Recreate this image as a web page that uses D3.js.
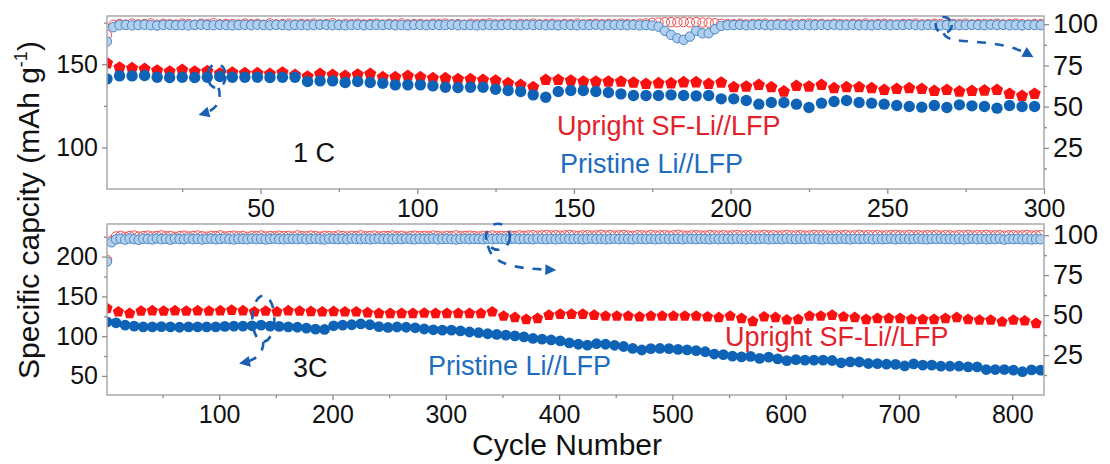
<!DOCTYPE html>
<html><head><meta charset="utf-8">
<script src="https://cdn.jsdelivr.net/npm/d3@7"></script>
<style>
body{margin:0;background:#fff}
text{font-family:"Liberation Sans",Arial,Helvetica,sans-serif}
</style>
</head><body>
<svg id="chart" width="1110" height="464"></svg>
<script>
// ---------- 1 C panel: cycles 1-300 ----------
const cyc1C = d3.range(1, 300, 4);          // discharge capacity shown every 4th cycle
const upright1C = [
  150.6,148.0,147.6,147.2,146.2,145.6,146.6,145.6,145.8,144.4,
  145.0,144.6,144.6,144.2,145.0,143.6,142.6,144.2,143.6,143.0,
  143.8,144.2,142.2,142.2,143.0,142.2,141.6,141.6,141.0,141.0,
  140.6,140.2,138.6,137.6,136.2,140.6,140.6,140.2,139.6,139.6,
  139.6,139.6,139.0,138.2,138.6,138.6,139.2,139.2,138.2,139.0,
  136.2,136.6,137.6,136.2,133.6,137.0,136.6,137.6,135.6,136.2,
  136.2,135.6,134.6,135.2,135.6,135.2,134.0,134.6,133.6,134.0,
  134.2,134.6,132.2,131.0,132.2];
const pristine1C = [
  141.2,143.0,143.0,143.2,142.2,142.0,142.2,142.0,142.2,142.6,
  142.2,142.2,142.2,142.0,142.2,142.2,139.6,140.0,140.0,139.0,
  139.6,139.0,138.6,137.6,137.6,137.6,137.0,136.2,136.0,136.2,
  136.2,135.0,134.2,133.6,131.6,130.2,133.6,134.2,134.2,133.6,
  133.0,132.2,131.2,131.2,131.2,131.6,131.2,131.0,131.2,129.2,
  129.2,128.2,126.0,127.0,127.0,126.0,124.0,126.6,127.6,128.2,
  127.0,126.6,126.0,125.2,124.6,124.2,125.2,124.0,125.6,125.0,
  124.6,123.6,125.2,124.6,124.6];
const ceCyc1C = d3.range(1, 300, 2);         // coulombic efficiency every 2nd cycle
const ceUpright1C = [
  93.5,99.6,100.2,99.8,100.4,99.9,100.1,100.5,99.7,100.3,
  100.0,99.8,100.4,100.1,99.7,100.3,100.0,100.6,99.9,100.2,
  100.1,99.8,100.4,100.0,100.2,99.7,100.5,99.9,100.1,100.3,
  99.8,100.2,100.0,100.4,99.9,100.1,100.6,99.8,100.2,100.0,
  100.3,99.9,100.1,100.4,99.8,100.2,100.0,100.5,99.9,100.1,
  100.2,99.8,100.3,100.0,100.4,99.9,100.1,99.7,100.3,100.0,
  100.2,100.5,99.9,100.1,100.3,99.8,100.2,100.0,100.4,99.9,
  100.1,100.3,99.8,100.2,100.0,100.4,99.9,100.1,100.3,100.0,
  100.2,99.9,100.4,100.1,100.0,100.3,100.5,100.8,101.0,101.2,
  101.3,101.2,101.4,101.1,101.3,101.0,100.9,100.6,100.3,100.1,
  100.0,100.3,99.9,100.2,100.1,100.4,99.8,100.2,100.0,100.3,
  99.9,100.1,100.4,100.0,100.2,99.8,100.3,100.1,99.9,100.2,
  100.0,100.4,99.9,100.1,100.3,100.0,99.8,100.2,100.1,100.4,
  99.9,100.0,100.3,100.1,99.8,100.2,100.0,100.4,99.9,100.1,
  100.2,100.0,100.3,99.9,100.1,100.4,100.0,99.8,100.2,100.1];
const cePristine1C = [
  89.5,98.2,99.4,99.6,99.3,99.5,99.7,99.4,99.2,99.5,
  99.6,99.4,99.5,99.3,99.6,99.7,99.5,99.4,99.6,99.5,
  99.3,99.5,99.6,99.4,99.7,99.5,99.4,99.6,99.5,99.3,
  99.6,99.5,99.4,99.5,99.7,99.6,99.4,99.5,99.3,99.5,
  99.6,99.4,99.5,99.6,99.5,99.7,99.4,99.5,99.3,99.6,
  99.5,99.4,99.6,99.5,99.5,99.7,99.4,99.6,99.5,99.3,
  99.5,99.6,99.4,99.5,99.6,99.5,99.4,99.7,99.5,99.6,
  99.4,99.5,99.3,99.6,99.5,99.4,99.6,99.5,99.7,99.4,
  99.5,99.6,99.5,99.4,99.6,99.3,99.5,99.2,98.5,96.0,
  93.5,91.5,90.5,92.5,96.0,94.5,94.5,97.0,99.0,99.4,
  99.5,99.6,99.4,99.5,99.7,99.5,99.4,99.6,99.5,99.3,
  99.5,99.6,99.4,99.5,99.6,99.5,99.7,99.4,99.5,99.6,
  99.4,99.5,99.3,99.6,99.5,99.4,99.6,99.5,99.7,99.5,
  99.4,99.6,99.5,99.3,99.5,99.6,99.4,99.5,99.6,99.5,
  99.4,99.7,99.5,99.6,99.4,99.5,99.3,99.6,99.5,99.4];

// ---------- 3C panel: cycles 1-828 ----------
const cycUpright3C = d3.range(1, 828, 10);
const upright3C = [
  134.9,130.6,128.6,131.5,131.9,131.5,131.9,131.5,131.9,131.5,
  131.9,132.7,131.9,130.6,131.5,130.6,131.9,131.5,131.0,130.6,
  131.0,130.6,130.6,129.5,128.6,128.6,128.6,128.6,129.0,128.6,
  128.6,128.6,128.6,128.6,130.6,125.2,123.5,121.0,122.3,126.4,
  127.7,127.7,127.7,126.4,125.2,125.2,125.2,124.3,125.2,125.2,
  125.2,125.2,125.2,124.3,123.5,125.2,122.3,118.5,124.3,123.5,
  120.5,121.0,125.2,125.2,126.4,124.3,123.5,121.0,122.3,122.3,
  122.3,121.0,121.0,121.0,122.3,123.5,121.0,120.2,120.2,118.0,
  120.2,119.3,116.0];
const cycPristine3C = d3.range(1, 828, 8);
const pristine3C = [
  118.0,116.8,113.9,112.6,111.7,111.7,112.0,111.7,111.2,111.7,
  111.7,111.7,111.7,112.2,112.6,112.6,113.0,113.9,112.6,112.2,
  111.7,111.2,110.0,108.8,108.4,113.0,113.9,114.3,115.5,114.3,
  112.0,110.9,111.5,111.2,110.5,109.0,108.0,107.6,107.6,106.5,
  105.2,104.3,103.0,102.2,101.3,100.4,99.0,97.1,96.2,95.2,
  94.0,91.5,89.8,88.7,90.5,89.8,88.5,87.0,84.5,82.6,
  84.3,84.5,84.3,83.3,82.8,81.8,80.4,77.5,76.8,74.8,
  74.0,74.6,72.0,73.6,71.5,69.3,70.5,69.8,69.8,69.8,
  69.4,66.5,67.7,67.5,65.6,65.5,64.7,64.5,62.5,65.2,
  63.5,63.5,62.2,62.2,62.2,61.4,61.4,58.0,58.0,58.0,
  57.2,55.3,57.6,57.2];
const ceCyc3C = d3.range(1, 828, 4);
const ceUpright3C = [
  84.5,96.5,99.2,99.6,99.0,99.5,99.8,99.1,99.4,99.7,
  99.2,99.5,99.9,99.3,99.6,99.0,99.4,99.7,99.2,99.5,
  99.8,99.3,99.1,99.6,99.4,99.9,99.2,99.5,99.7,99.3,
  99.5,99.0,99.6,99.4,99.8,99.2,99.5,99.3,99.7,99.4,
  99.6,99.2,99.9,99.4,99.3,99.7,99.5,99.1,99.6,99.4,
  99.3,99.8,99.5,99.2,99.6,99.4,99.9,99.3,99.5,99.7,
  99.2,99.5,99.4,99.8,99.3,99.6,99.1,99.5,99.7,99.4,
  99.6,99.3,99.8,99.5,99.2,99.6,99.4,99.9,99.3,99.5,
  99.7,99.4,99.2,99.6,99.5,99.8,99.3,99.6,99.4,99.7,
  99.5,99.9,99.6,99.8,100.0,99.7,99.9,100.1,99.8,100.0,
  99.7,99.9,100.1,99.8,99.6,99.9,100.0,99.7,99.9,100.2,
  99.8,100.0,99.7,99.9,100.1,99.8,99.6,100.0,99.9,99.7,
  100.1,99.8,99.9,100.0,99.7,99.9,100.2,99.8,99.6,99.9,
  100.0,99.8,99.7,100.1,99.9,99.8,100.0,99.7,99.9,100.1,
  99.8,99.9,100.0,99.7,99.9,100.2,99.8,100.0,99.7,99.9,
  100.1,99.8,99.9,100.0,99.7,99.8,100.1,99.9,100.0,99.8,
  99.7,100.0,99.9,100.1,99.8,99.9,100.2,99.8,100.0,99.9,
  100.1,99.8,99.9,100.0,100.2,99.9,99.8,100.1,99.9,100.0,
  99.8,100.0,99.9,100.1,99.8,100.0,99.9,99.7,100.0,99.9,
  100.1,99.8,100.0,99.9,100.2,99.8,99.9,100.0,99.7,99.9,
  100.0,99.8,99.9,100.1,99.8,99.9,100.0];
const cePristine3C = [
  83.5,95.5,97.4,97.8,97.2,97.9,97.5,97.1,97.8,97.6,
  97.3,97.9,97.5,97.7,97.2,97.8,97.6,97.4,97.9,97.5,
  97.7,97.3,97.6,97.8,97.4,97.6,97.9,97.5,97.3,97.7,
  97.6,97.4,97.8,97.5,97.7,97.3,97.6,97.8,97.5,97.4,
  97.7,97.6,97.5,97.8,97.4,97.6,97.7,97.5,97.3,97.8,
  97.6,97.5,97.7,97.4,97.8,97.6,97.5,97.7,97.4,97.6,
  97.8,97.5,97.6,97.4,97.7,97.5,97.8,97.6,97.4,97.7,
  97.5,97.6,97.8,97.4,97.6,97.7,97.5,97.3,97.6,97.8,
  97.5,97.7,97.6,97.4,97.8,97.5,97.6,97.7,97.4,97.6,
  97.8,97.5,97.7,97.6,97.4,97.8,97.6,97.5,97.7,97.4,
  97.6,97.8,97.5,97.6,97.7,97.4,97.6,97.8,97.5,97.7,
  97.4,97.6,97.8,97.5,97.7,97.6,97.4,97.8,97.6,97.5,
  97.7,97.4,97.6,97.8,97.5,97.6,97.7,97.4,97.8,97.6,
  97.5,97.7,97.6,97.4,97.8,97.5,97.6,97.7,97.5,97.8,
  97.6,97.4,97.7,97.5,97.6,97.8,97.4,97.6,97.7,97.5,
  97.8,97.6,97.4,97.7,97.5,97.6,97.8,97.5,97.4,97.7,
  97.6,97.5,97.8,97.6,97.4,97.7,97.5,97.6,97.8,97.4,
  97.7,97.5,97.6,97.8,97.4,97.6,97.7,97.5,97.6,97.8,
  97.5,97.4,97.7,97.6,97.8,97.5,97.6,97.4,97.7,97.3,
  97.6,97.8,97.5,97.7,97.4,97.6,97.5,97.8,97.2,97.6,
  97.5,97.7,97.4,97.6,97.3,97.5,97.4];

// ---------- tick values ----------
const xTicks1C = [50, 100, 150, 200, 250, 300];
const xMinor1C = [25, 75, 125, 175, 225, 275];
const yTicks1C = [100, 150];
const yMinor1C = [125, 175];
const xTicks3C = [100, 200, 300, 400, 500, 600, 700, 800];
const xMinor3C = [50, 150, 250, 350, 450, 550, 650, 750];
const yTicks3C = [50, 100, 150, 200];
const yMinor3C = [75, 125, 175, 225];
const ceTicks = [25, 50, 75, 100];
const ceMinor = [12.5, 37.5, 62.5, 87.5];

// ---------- styling ----------
const RED = "#fb1010", BLUE = "#0e63b6";
const RED_TXT = "#e4212b", BLUE_TXT = "#1c6cc0";
const ANNO = "#1a5fb2";
const FRAME = "#a9a9a9";

const svg = d3.select("#chart");
svg.append("rect").attr("width", 1110).attr("height", 464).attr("fill", "#fff");

const defs = svg.append("defs");
defs.append("marker").attr("id", "arrowHead")
  .attr("viewBox", "0 0 10 10").attr("refX", 6).attr("refY", 5)
  .attr("markerWidth", 6.2).attr("markerHeight", 4.2)
  .attr("markerUnits", "strokeWidth").attr("orient", "auto")
  .append("path").attr("d", "M0,0 L10,5 L0,10 Z").attr("fill", ANNO);

const pentagon = r => {
  const p = d3.path();
  for (let k = 0; k < 5; k++) {
    const a = -Math.PI / 2 + k * 2 * Math.PI / 5;
    const x = r * Math.cos(a), y = r * Math.sin(a);
    k ? p.lineTo(x, y) : p.moveTo(x, y);
  }
  p.closePath();
  return p.toString();
};

function panel(cfg) {
  const {id, left, right, top, bottom} = cfg;
  const x = d3.scaleLinear().domain(cfg.xDomain).range([left, right]);
  const yL = d3.scaleLinear().domain(cfg.yDomain).range([bottom, top]);
  const yR = d3.scaleLinear().domain(cfg.ceDomain).range([bottom, top]);

  defs.append("clipPath").attr("id", "clip" + id)
    .append("rect").attr("x", left).attr("y", top)
    .attr("width", right - left).attr("height", bottom - top);

  const g = svg.append("g");
  const plot = g.append("g").attr("clip-path", `url(#clip${id})`);

  // coulombic efficiency (right axis): hollow red rings under light-blue discs
  plot.append("g").selectAll("circle")
    .data(cfg.ceCycles.map((c, i) => ({c, v: cfg.ceUpright[i]})).filter(d => d.v != null))
    .join("circle")
    .attr("cx", d => x(d.c)).attr("cy", d => yR(d.v)).attr("r", 4.7)
    .attr("fill", "none").attr("stroke", "#ee4a4a").attr("stroke-width", 1);
  plot.append("g").selectAll("circle")
    .data(cfg.ceCycles.map((c, i) => ({c, v: cfg.cePristine[i]})).filter(d => d.v != null))
    .join("circle")
    .attr("cx", d => x(d.c)).attr("cy", d => yR(d.v)).attr("r", 4.7)
    .attr("fill", "#b0d0ee").attr("stroke", "#4a86c6").attr("stroke-width", 1);

  // discharge capacity (left axis)
  plot.append("g").selectAll("path")
    .data(cfg.upCycles.map((c, i) => ({c, v: cfg.upright[i]})).filter(d => d.v != null))
    .join("path")
    .attr("d", pentagon(cfg.pentR))
    .attr("transform", d => `translate(${x(d.c)},${yL(d.v)})`)
    .attr("fill", RED);
  plot.append("g").selectAll("circle")
    .data(cfg.prCycles.map((c, i) => ({c, v: cfg.pristine[i]})).filter(d => d.v != null))
    .join("circle")
    .attr("cx", d => x(d.c)).attr("cy", d => yL(d.v)).attr("r", cfg.dotR)
    .attr("fill", BLUE);

  // frame
  g.append("rect").attr("x", left).attr("y", top)
    .attr("width", right - left).attr("height", bottom - top)
    .attr("fill", "none").attr("stroke", FRAME).attr("stroke-width", 1.5);

  const styleAxis = (sel, size) => {
    sel.select(".domain").remove();
    sel.selectAll("line").attr("stroke", "#8c8c8c").attr("stroke-width", 1.3);
    sel.selectAll("text").attr("font-size", size).attr("fill", "#111")
      .attr("font-family", '"Liberation Sans", Arial, sans-serif');
  };

  // x axis
  g.append("g").attr("transform", `translate(0,${bottom})`)
    .call(d3.axisBottom(x).tickValues(cfg.xTicks).tickSize(5).tickPadding(5).tickFormat(d3.format("d")))
    .call(s => styleAxis(s, 25));
  g.append("g").attr("transform", `translate(0,${bottom})`)
    .call(d3.axisBottom(x).tickValues(cfg.xMinor).tickSize(3).tickFormat(""))
    .call(s => styleAxis(s, 25));
  // left axis
  g.append("g").attr("transform", `translate(${left},0)`)
    .call(d3.axisLeft(yL).tickValues(cfg.yTicks).tickSize(5).tickPadding(4).tickFormat(d3.format("d")))
    .call(s => styleAxis(s, 25));
  g.append("g").attr("transform", `translate(${left},0)`)
    .call(d3.axisLeft(yL).tickValues(cfg.yMinor).tickSize(3).tickFormat(""))
    .call(s => styleAxis(s, 25));
  // right axis
  g.append("g").attr("transform", `translate(${right},0)`)
    .call(d3.axisRight(yR).tickValues(ceTicks).tickSize(5).tickPadding(4).tickFormat(d3.format("d")))
    .call(s => styleAxis(s, 27));
  g.append("g").attr("transform", `translate(${right},0)`)
    .call(d3.axisRight(yR).tickValues(ceMinor).tickSize(3).tickFormat(""))
    .call(s => styleAxis(s, 27));

  return {g, x, yL, yR};
}

const p1 = panel({
  id: "1C", left: 107, right: 1044, top: 16, bottom: 189,
  xDomain: [1, 300], yDomain: [75, 179], ceDomain: [0, 105],
  xTicks: xTicks1C, xMinor: xMinor1C, yTicks: yTicks1C, yMinor: yMinor1C,
  upCycles: cyc1C, upright: upright1C, prCycles: cyc1C, pristine: pristine1C,
  ceCycles: ceCyc1C, ceUpright: ceUpright1C, cePristine: cePristine1C,
  pentR: 6.4, dotR: 5.7
});
const p3 = panel({
  id: "3C", left: 107, right: 1044, top: 224, bottom: 395,
  xDomain: [1, 828], yDomain: [26, 241], ceDomain: [0, 107],
  xTicks: xTicks3C, xMinor: xMinor3C, yTicks: yTicks3C, yMinor: yMinor3C,
  upCycles: cycUpright3C, upright: upright3C, prCycles: cycPristine3C, pristine: pristine3C,
  ceCycles: ceCyc3C, ceUpright: ceUpright3C, cePristine: cePristine3C,
  pentR: 5.9, dotR: 5.4
});

// ---------- dashed call-outs pointing each circled series to its axis ----------
function callout(p, cx, cy, rx, ry, pathFn) {
  const g = p.g.append("g").attr("fill", "none").attr("stroke", ANNO)
    .attr("stroke-width", 2.6).attr("stroke-dasharray", "9,9");
  g.append("ellipse").attr("cx", cx).attr("cy", cy).attr("rx", rx).attr("ry", ry);
  g.append("path").attr("d", pathFn(cx, cy, rx, ry)).attr("marker-end", "url(#arrowHead)");
}
callout(p1, p1.x(36), p1.yL(143), 9, 12,
  (cx, cy, rx, ry) => `M${cx + 2},${cy + ry} Q${cx + 7},${cy + 32} ${cx - 14},${cy + 38}`);
callout(p1, p1.x(268), p1.yR(99.5), 8, 8,
  (cx, cy, rx, ry) => `M${cx},${cy + ry} C${cx + 4},${cy + 22} ${cx + 50},${cy + 10} ${cx + 86},${cy + 30}`);
callout(p3, p3.x(139), p3.yL(122), 11, 23,
  (cx, cy, rx, ry) => `M${cx},${cy + ry} Q${cx},${cy + 40} ${cx - 20},${cy + 44}`);
callout(p3, p3.x(346), p3.yR(99), 12, 13,
  (cx, cy, rx, ry) => `M${cx - 10},${cy + 9} C${cx - 6},${cy + 26} ${cx + 12},${cy + 32} ${cx + 54},${cy + 33}`);

// ---------- in-plot labels ----------
const label = (txt, x, y, color, size) => svg.append("text").attr("x", x).attr("y", y)
  .attr("fill", color).attr("font-size", size).text(txt);
label("1 C", 293, 162, "#111", 27);
label("Upright SF-Li//LFP", 557, 135, RED_TXT, 27);
label("Pristine Li//LFP", 560, 173, BLUE_TXT, 27);
label("3C", 293, 377, "#111", 27);
label("Pristine Li//LFP", 428, 375, BLUE_TXT, 27);
label("Upright SF-Li//LFP", 725, 346, RED_TXT, 27);

// ---------- axis titles ----------
svg.append("text").attr("x", 567).attr("y", 455).attr("text-anchor", "middle")
  .attr("font-size", 30).attr("fill", "#111").text("Cycle Number");
const yt = svg.append("text").attr("transform", "translate(39,210) rotate(-90)")
  .attr("text-anchor", "middle").attr("font-size", 30).attr("fill", "#111");
yt.append("tspan").text("Specific capcity (mAh g");
yt.append("tspan").attr("font-size", 18).attr("dy", -12).text("-1");
yt.append("tspan").attr("dy", 12).text(")");
</script>
</body></html>
